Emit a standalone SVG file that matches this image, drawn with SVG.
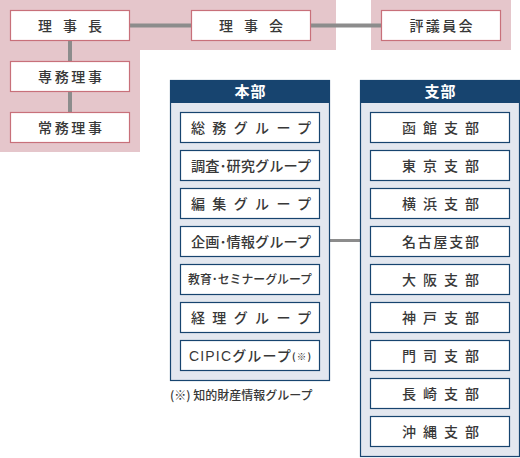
<svg xmlns="http://www.w3.org/2000/svg" width="520" height="458" viewBox="0 0 520 458">
<style>
text{font-family:"Noto Sans CJK JP","Noto Sans",sans-serif;fill:#383838;font-size:14px;font-weight:500;text-anchor:middle}
.bg{fill:#e5c6cb}
.top{fill:#fff;stroke:#c8707a;stroke-width:1.2}
.panel{fill:#e3e7ef;stroke:#17446f;stroke-width:1.2}
.head{fill:#17446f}
.ht{fill:#fff;font-size:15px;font-weight:bold}
.box{fill:#fff;stroke:#17446f;stroke-width:1.2}
.ln{stroke:#8c8c8c;stroke-width:4;fill:none}
.ln2{stroke:#8c8c8c;stroke-width:3;fill:none}
.fn{font-size:12px;text-anchor:start}
</style>
<rect class="bg" x="0" y="0" width="336" height="50"/>
<rect class="bg" x="0" y="0" width="140" height="152"/>
<rect class="bg" x="371" y="0" width="140" height="50"/>
<g id="connectors">
<line class="ln" x1="130" y1="25.5" x2="191" y2="25.5"/>
<line class="ln" x1="311" y1="25.5" x2="381" y2="25.5"/>
<line class="ln" x1="70" y1="40" x2="70" y2="61"/>
<line class="ln" x1="70" y1="91" x2="70" y2="112"/>
<line class="ln2" x1="330" y1="240.5" x2="360" y2="240.5"/>
</g>
<g id="rijicho"><rect class="top" x="10.5" y="10.5" width="119" height="30"/><text x="70" y="30.5" textLength="64" lengthAdjust="spacing">理事長</text></g>
<g id="rijikai"><rect class="top" x="191.5" y="10.5" width="119" height="30"/><text x="251" y="30.5" textLength="64" lengthAdjust="spacing">理事会</text></g>
<g id="hyogiinkai"><rect class="top" x="381.5" y="10.5" width="119" height="30"/><text x="441" y="30.5" textLength="63" lengthAdjust="spacing">評議員会</text></g>
<g id="senmu"><rect class="top" x="10.5" y="61.5" width="119" height="30"/><text x="70" y="81.5" textLength="64" lengthAdjust="spacing">専務理事</text></g>
<g id="jomu"><rect class="top" x="10.5" y="112.5" width="119" height="30"/><text x="70" y="132.5" textLength="64" lengthAdjust="spacing">常務理事</text></g>
<g id="honbu">
<rect class="panel" x="170.5" y="80.5" width="159" height="300"/>
<rect class="head" x="170" y="80" width="160" height="23"/>
<text class="ht" x="250" y="97" textLength="31" lengthAdjust="spacing">本部</text>
</g>
<g id="somu"><rect class="box" x="180.5" y="112.5" width="139" height="30"/><text x="251" y="132.5" textLength="120" lengthAdjust="spacing">総務グループ</text></g>
<g id="chosa"><rect class="box" x="180.5" y="150.5" width="139" height="30"/><text x="251" y="170.5" textLength="120" lengthAdjust="spacingAndGlyphs">調査･研究グループ</text></g>
<g id="henshu"><rect class="box" x="180.5" y="188.5" width="139" height="30"/><text x="251" y="208.5" textLength="120" lengthAdjust="spacing">編集グループ</text></g>
<g id="kikaku"><rect class="box" x="180.5" y="226.5" width="139" height="30"/><text x="251" y="246.5" textLength="120" lengthAdjust="spacingAndGlyphs">企画･情報グループ</text></g>
<g id="kyoiku"><rect class="box" x="180.5" y="264.5" width="139" height="30"/><text x="250" y="284" style="font-size:12.5px" textLength="124" lengthAdjust="spacingAndGlyphs">教育･セミナーグループ</text></g>
<g id="keiri"><rect class="box" x="180.5" y="302.5" width="139" height="30"/><text x="251" y="322.5" textLength="120" lengthAdjust="spacing">経理グループ</text></g>
<g id="cipic"><rect class="box" x="180.5" y="340.5" width="139" height="30"/><text x="250" y="360.5" textLength="122" lengthAdjust="spacing"><tspan style="font-family:'Liberation Sans',sans-serif">CIPIC</tspan>グループ<tspan style="font-size:9.5px;font-weight:bold" dy="-1">(※)</tspan></text></g>
<text class="fn" x="170" y="400">(※) 知的財産情報グループ</text>
<g id="shibu">
<rect class="panel" x="360.5" y="80.5" width="159" height="376"/>
<rect class="head" x="360" y="80" width="160" height="23"/>
<text class="ht" x="440" y="97" textLength="31" lengthAdjust="spacing">支部</text>
</g>
<g id="hakodate"><rect class="box" x="370.5" y="112.5" width="139" height="30"/><text x="440.5" y="132.5" textLength="77" lengthAdjust="spacing">函館支部</text></g>
<g id="tokyo"><rect class="box" x="370.5" y="150.5" width="139" height="30"/><text x="440.5" y="170.5" textLength="77" lengthAdjust="spacing">東京支部</text></g>
<g id="yokohama"><rect class="box" x="370.5" y="188.5" width="139" height="30"/><text x="440.5" y="208.5" textLength="77" lengthAdjust="spacing">横浜支部</text></g>
<g id="nagoya"><rect class="box" x="370.5" y="226.5" width="139" height="30"/><text x="440.5" y="246.5" textLength="77" lengthAdjust="spacing">名古屋支部</text></g>
<g id="osaka"><rect class="box" x="370.5" y="264.5" width="139" height="30"/><text x="440.5" y="284.5" textLength="77" lengthAdjust="spacing">大阪支部</text></g>
<g id="kobe"><rect class="box" x="370.5" y="302.5" width="139" height="30"/><text x="440.5" y="322.5" textLength="77" lengthAdjust="spacing">神戸支部</text></g>
<g id="moji"><rect class="box" x="370.5" y="340.5" width="139" height="30"/><text x="440.5" y="360.5" textLength="77" lengthAdjust="spacing">門司支部</text></g>
<g id="nagasaki"><rect class="box" x="370.5" y="378.5" width="139" height="30"/><text x="440.5" y="398.5" textLength="77" lengthAdjust="spacing">長崎支部</text></g>
<g id="okinawa"><rect class="box" x="370.5" y="416.5" width="139" height="30"/><text x="440.5" y="436.5" textLength="77" lengthAdjust="spacing">沖縄支部</text></g>
</svg>
